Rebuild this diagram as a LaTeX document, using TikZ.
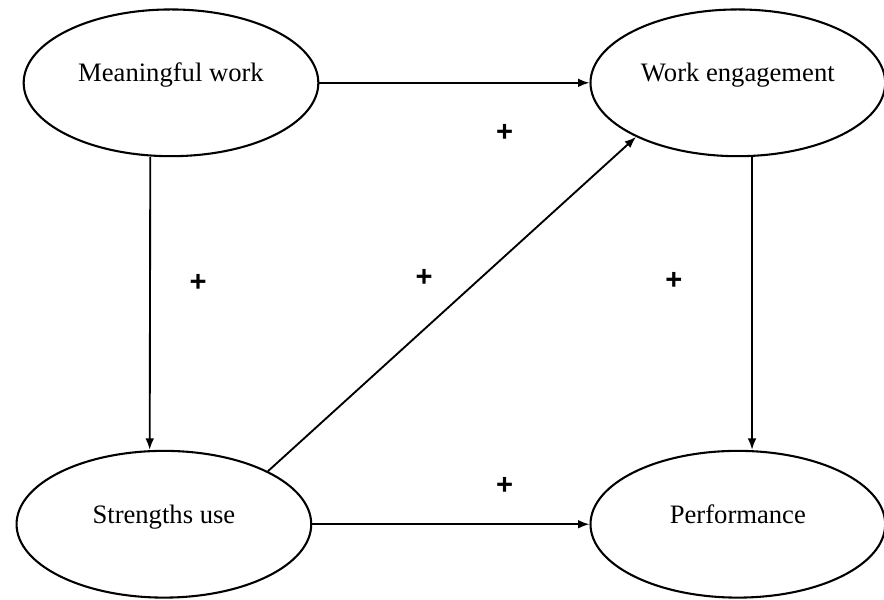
\documentclass[tikz,border=0pt]{standalone}
\usepackage{fontspec}
\setmainfont{Liberation Serif}
\setsansfont{Liberation Sans}
\usetikzlibrary{arrows.meta,shapes.geometric}

\begin{document}
\begin{tikzpicture}[>={Latex[length=5.5pt,width=4.2pt]},line width=0.9pt,node distance=9.58cm,
   construct/.style={ellipse,draw,line width=1pt,minimum width=4.98cm,minimum height=2.48cm,
                     text height=8pt,text depth=9pt,font=\fontsize{12.8}{15}\selectfont},
   sign/.style={font=\fontsize{14}{16}\selectfont\sffamily\bfseries}]
   \useasboundingbox (0,0) rectangle (14.94,10.14);
   \node[construct] (mw)                                          at (2.89,8.74) {Meaningful work};
   \node[construct] (we)   [right of=mw]                          {Work engagement};
   \node[construct] (su)   [below of=mw,node distance=7.46cm,xshift=-0.12cm] {Strengths use};
   \node[construct] (perf) [right of=su,node distance=9.7cm]     {Performance};

   % paths
   \draw[->] (mw) -- (we);
   \draw[->] ([xshift=-0.35cm]mw.south) -- ([xshift=-0.24cm]su.north);
   \draw[->] (su.27) -- (we.208);
   \draw[->] ([xshift=0.24cm]we.south) -- ([xshift=0.24cm]perf.north);
   \draw[->] (su) -- (perf);

   % signs
   \node[sign] (p1) at (8.53,7.89) {+};
   \node[sign] (p2) at (3.35,5.36) {+};
   \node[sign] (p3) at (7.17,5.44) {+};
   \node[sign] (p4) at (11.39,5.39) {+};
   \node[sign] (p5) at (8.53,1.93) {+};
\end{tikzpicture}
\end{document}
